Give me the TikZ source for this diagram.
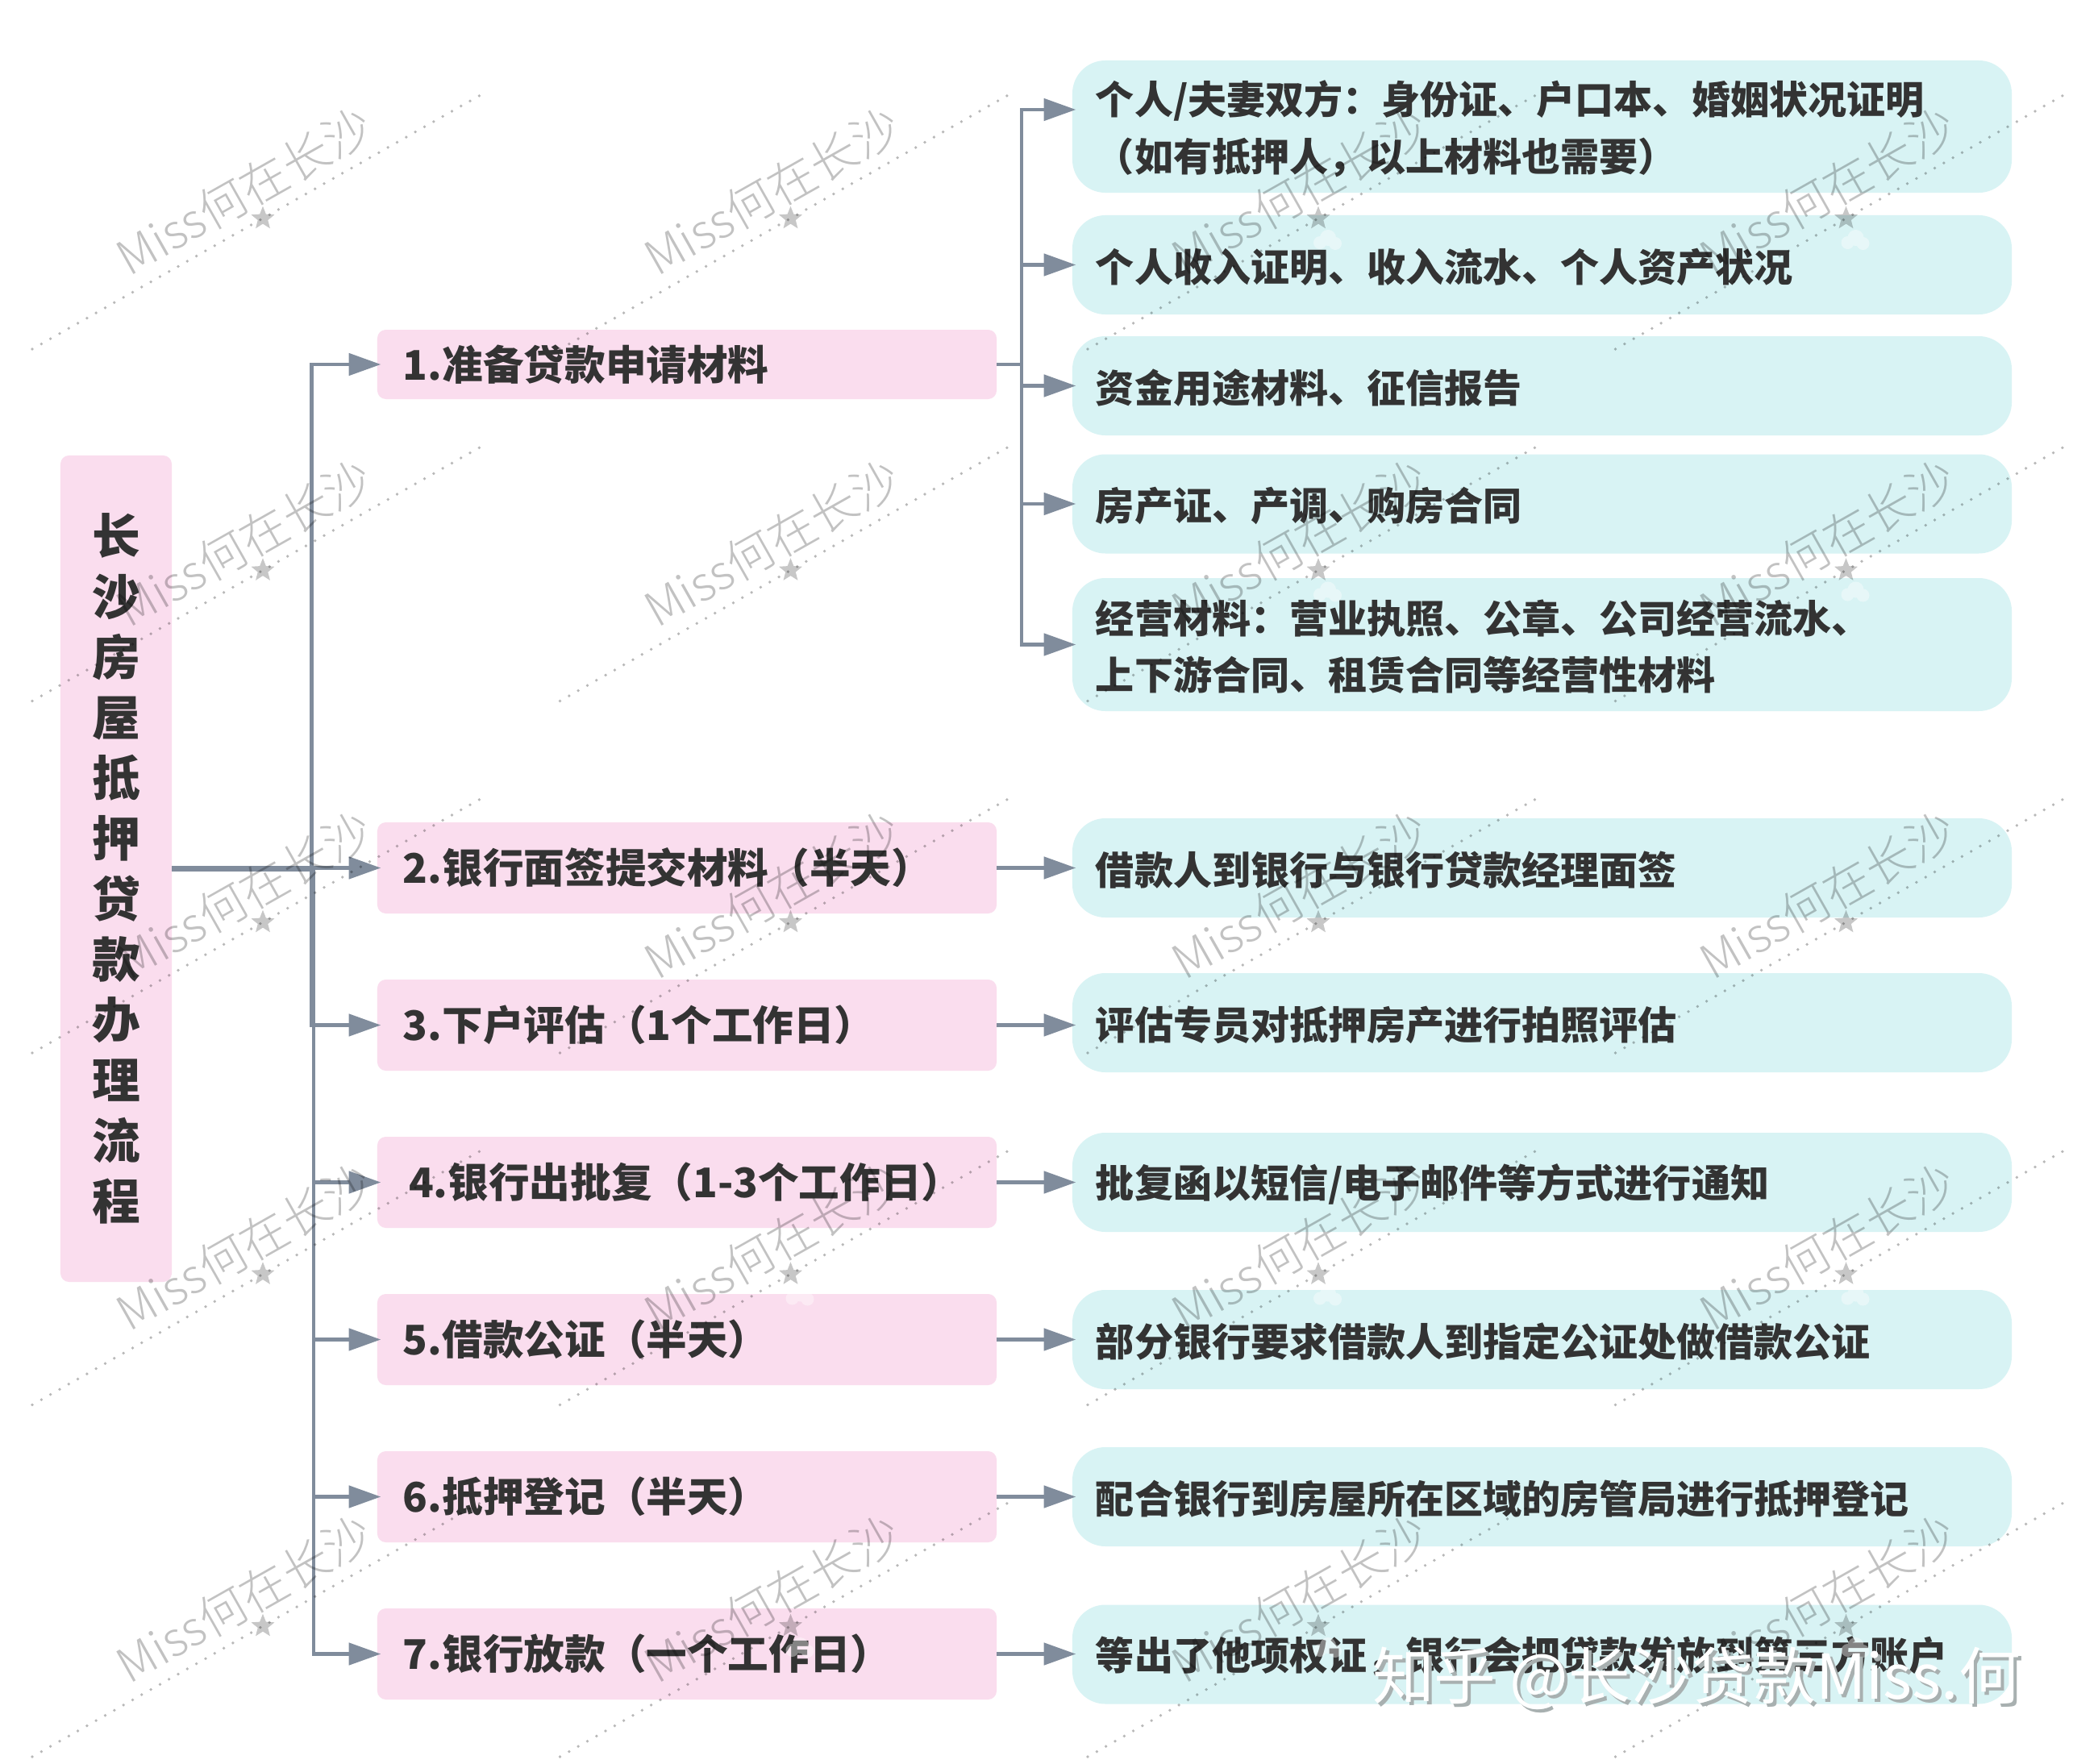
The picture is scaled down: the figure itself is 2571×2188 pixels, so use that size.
\documentclass[tikz,border=0pt]{standalone}
\usepackage{fontspec}
\usetikzlibrary{arrows.meta,shapes.geometric,calc}
\setmainfont{Noto Sans CJK SC}
\newfontfamily\wmfont{Noto Sans CJK SC Light}
\newfontfamily\sgfont{Noto Sans CJK SC}
\definecolor{pinkfill}{HTML}{FADDEE}
\definecolor{bluefill}{HTML}{D8F3F4}
\definecolor{inktext}{HTML}{333333}
\definecolor{linkc}{HTML}{808C9C}
\definecolor{shadowc}{HTML}{A8B0B0}
\tikzset{
  x=0.03cm,y=-0.03cm,
  rootbox/.style={fill=pinkfill,rounded corners=9pt,minimum width=4.14cm,minimum height=30.75cm,inner sep=0pt,align=center,text=inktext,font=\bfseries\fontsize{51}{64}\selectfont},
  pinkbox/.style={fill=pinkfill,rounded corners=9pt,minimum width=23.04cm,text width=21.12cm,inner xsep=0.96cm,inner ysep=0pt,align=left,text=inktext,font=\bfseries\fontsize{43.2}{50}\selectfont},
  bluebox/.style={fill=bluefill,rounded corners=35pt,minimum width=34.95cm,text width=33.21cm,inner xsep=0.87cm,inner ysep=0pt,align=left,text=inktext,font=\bfseries\fontsize{41}{60.5}\selectfont,execute at begin node={\rule{0pt}{40pt}}},
  conn/.style={draw=linkc,line width=4.2pt,-{Triangle[length=34pt,width=23pt]},shorten >=-4pt},
  rootline/.style={draw=linkc,line width=5.2pt},
  wmtext/.style={text=black,opacity=0.24,rotate=29.5,inner sep=0pt,font=\wmfont\fontsize{50.5}{50.5}\selectfont},
  wmdots/.style={draw=black,opacity=0.28,line width=3.2pt,line cap=round,dash pattern=on 0pt off 11.1pt},
  wmstar/.style={star,star points=5,star point ratio=2.3,fill=black,opacity=0.22,minimum size=26pt,inner sep=0pt},
  wmcloud/.style={fill=white,opacity=0.4},
  signtext/.style={inner sep=0pt,font=\sgfont\fontsize{65.5}{65.5}\selectfont},
}
\begin{document}
\begin{tikzpicture}
\useasboundingbox (0,0) rectangle (2571,2188);
\fill[white] (0,0) rectangle (2571,2188);
% root
\node[rootbox] (root) at (144,1077.5) {长\\沙\\房\\屋\\抵\\押\\贷\\款\\办\\理\\流\\程};
% pink
\node[pinkbox,minimum height=2.58cm] (p1) at (852,452) {1.准备贷款申请材料};
\node[pinkbox,minimum height=3.39cm] (p2) at (852,1076.5) {2.银行面签提交材料（半天）};
\node[pinkbox,minimum height=3.39cm] (p3) at (852,1271.5) {3.下户评估（1个工作日）};
\node[pinkbox,minimum height=3.39cm] (p4) at (852,1466.5) {\hspace{6pt}4.银行出批复（1-3个工作日）};
\node[pinkbox,minimum height=3.39cm] (p5) at (852,1661.5) {5.借款公证（半天）};
\node[pinkbox,minimum height=3.39cm] (p6) at (852,1856.5) {6.抵押登记（半天）};
\node[pinkbox,minimum height=3.39cm] (p7) at (852,2051.5) {7.银行放款（一个工作日）};
% blue
\node[bluebox,minimum height=4.92cm] (c1) at (1912.5,157) {个人/夫妻双方：身份证、户口本、婚姻状况证明\\（如有抵押人，以上材料也需要）};
\node[bluebox,minimum height=3.69cm] (c2) at (1912.5,328.5) {个人收入证明、收入流水、个人资产状况};
\node[bluebox,minimum height=3.69cm] (c3) at (1912.5,478.5) {资金用途材料、征信报告};
\node[bluebox,minimum height=3.69cm] (c4) at (1912.5,625) {房产证、产调、购房合同};
\node[bluebox,minimum height=4.95cm] (c5) at (1912.5,799.5) {经营材料：营业执照、公章、公司经营流水、\\上下游合同、租赁合同等经营性材料};
\node[bluebox,minimum height=3.69cm] (c6) at (1912.5,1076.5) {借款人到银行与银行贷款经理面签};
\node[bluebox,minimum height=3.69cm] (c7) at (1912.5,1268.5) {评估专员对抵押房产进行拍照评估};
\node[bluebox,minimum height=3.69cm] (c8) at (1912.5,1466.5) {批复函以短信/电子邮件等方式进行通知};
\node[bluebox,minimum height=3.69cm] (c9) at (1912.5,1661.5) {部分银行要求借款人到指定公证处做借款公证};
\node[bluebox,minimum height=3.69cm] (c10) at (1912.5,1856.5) {配合银行到房屋所在区域的房管局进行抵押登记};
\node[bluebox,minimum height=3.69cm] (c11) at (1912.5,2052) {等出了他项权证，银行会把贷款发放到第三方账户};
% trunks
\coordinate (ta) at (386.5,1077);
\coordinate (tb) at (389,1077);
\coordinate (tc) at (1267,452);
% first level connectors
\draw[rootline] (root.east) -- (ta |- root.east);
\foreach \n in {1,2,3}
  \draw[conn] (root.east) -- (ta |- root.east) -- (ta |- p\n.west) -- (p\n.west);
\foreach \n in {4,5,6,7}
  \draw[conn] (root.east) -- (tb |- root.east) -- (tb |- p\n.west) -- (p\n.west);
% second level connectors
\draw[conn] (p1.east) -- (tc |- p1.east) -- (tc |- {$(c1.west)+(0,-21)$}) -- ($(c1.west)+(0,-21)$);
\foreach \n in {2,3,4,5}
  \draw[conn] (p1.east) -- (tc |- p1.east) -- (tc |- c\n.west) -- (c\n.west);
\draw[conn] (p2.east) -- (p2.east -| c6.west);
\draw[conn] (p3.east) -- (p3.east -| c7.west);
\draw[conn] (p4.east) -- (p4.east -| c8.west);
\draw[conn] (p5.east) -- (p5.east -| c9.west);
\draw[conn] (p6.east) -- (p6.east -| c10.west);
\draw[conn] (p7.east) -- (p7.east -| c11.west);
% watermark
\begin{scope}
\clip (0,0) rectangle (2571,2188);
\foreach \i in {0,1,2,3}{
 \foreach \j in {0,1,2,3,4}{
  \pgfmathsetmacro{\wx}{303+654.5*\i}
  \pgfmathsetmacro{\wy}{237+436.5*\j}
  \coordinate (w\i\j) at (\wx,\wy);
  \node[wmtext] (wt\i\j) at (w\i\j) {Miss何在长沙};
  \draw[wmdots] ($(w\i\j)+(-263,196)$) -- ($(w\i\j)+(298,-122)$);
  \node[wmstar] (ws\i\j) at ($(w\i\j)+(23,34)$) {};
  \fill[wmcloud] ($(w\i\j)+(25,64)$) circle (8) ($(w\i\j)+(35,58)$) circle (10) ($(w\i\j)+(44,65)$) circle (8);
 }
}
\end{scope}
% signature
\node[signtext,text=shadowc,anchor=east] (sg2) at (2510,2086) {知乎 @长沙贷款Miss.何};
\node[signtext,text=white,anchor=east] (sg1) at (2506,2082) {知乎 @长沙贷款Miss.何};
\end{tikzpicture}
\end{document}
